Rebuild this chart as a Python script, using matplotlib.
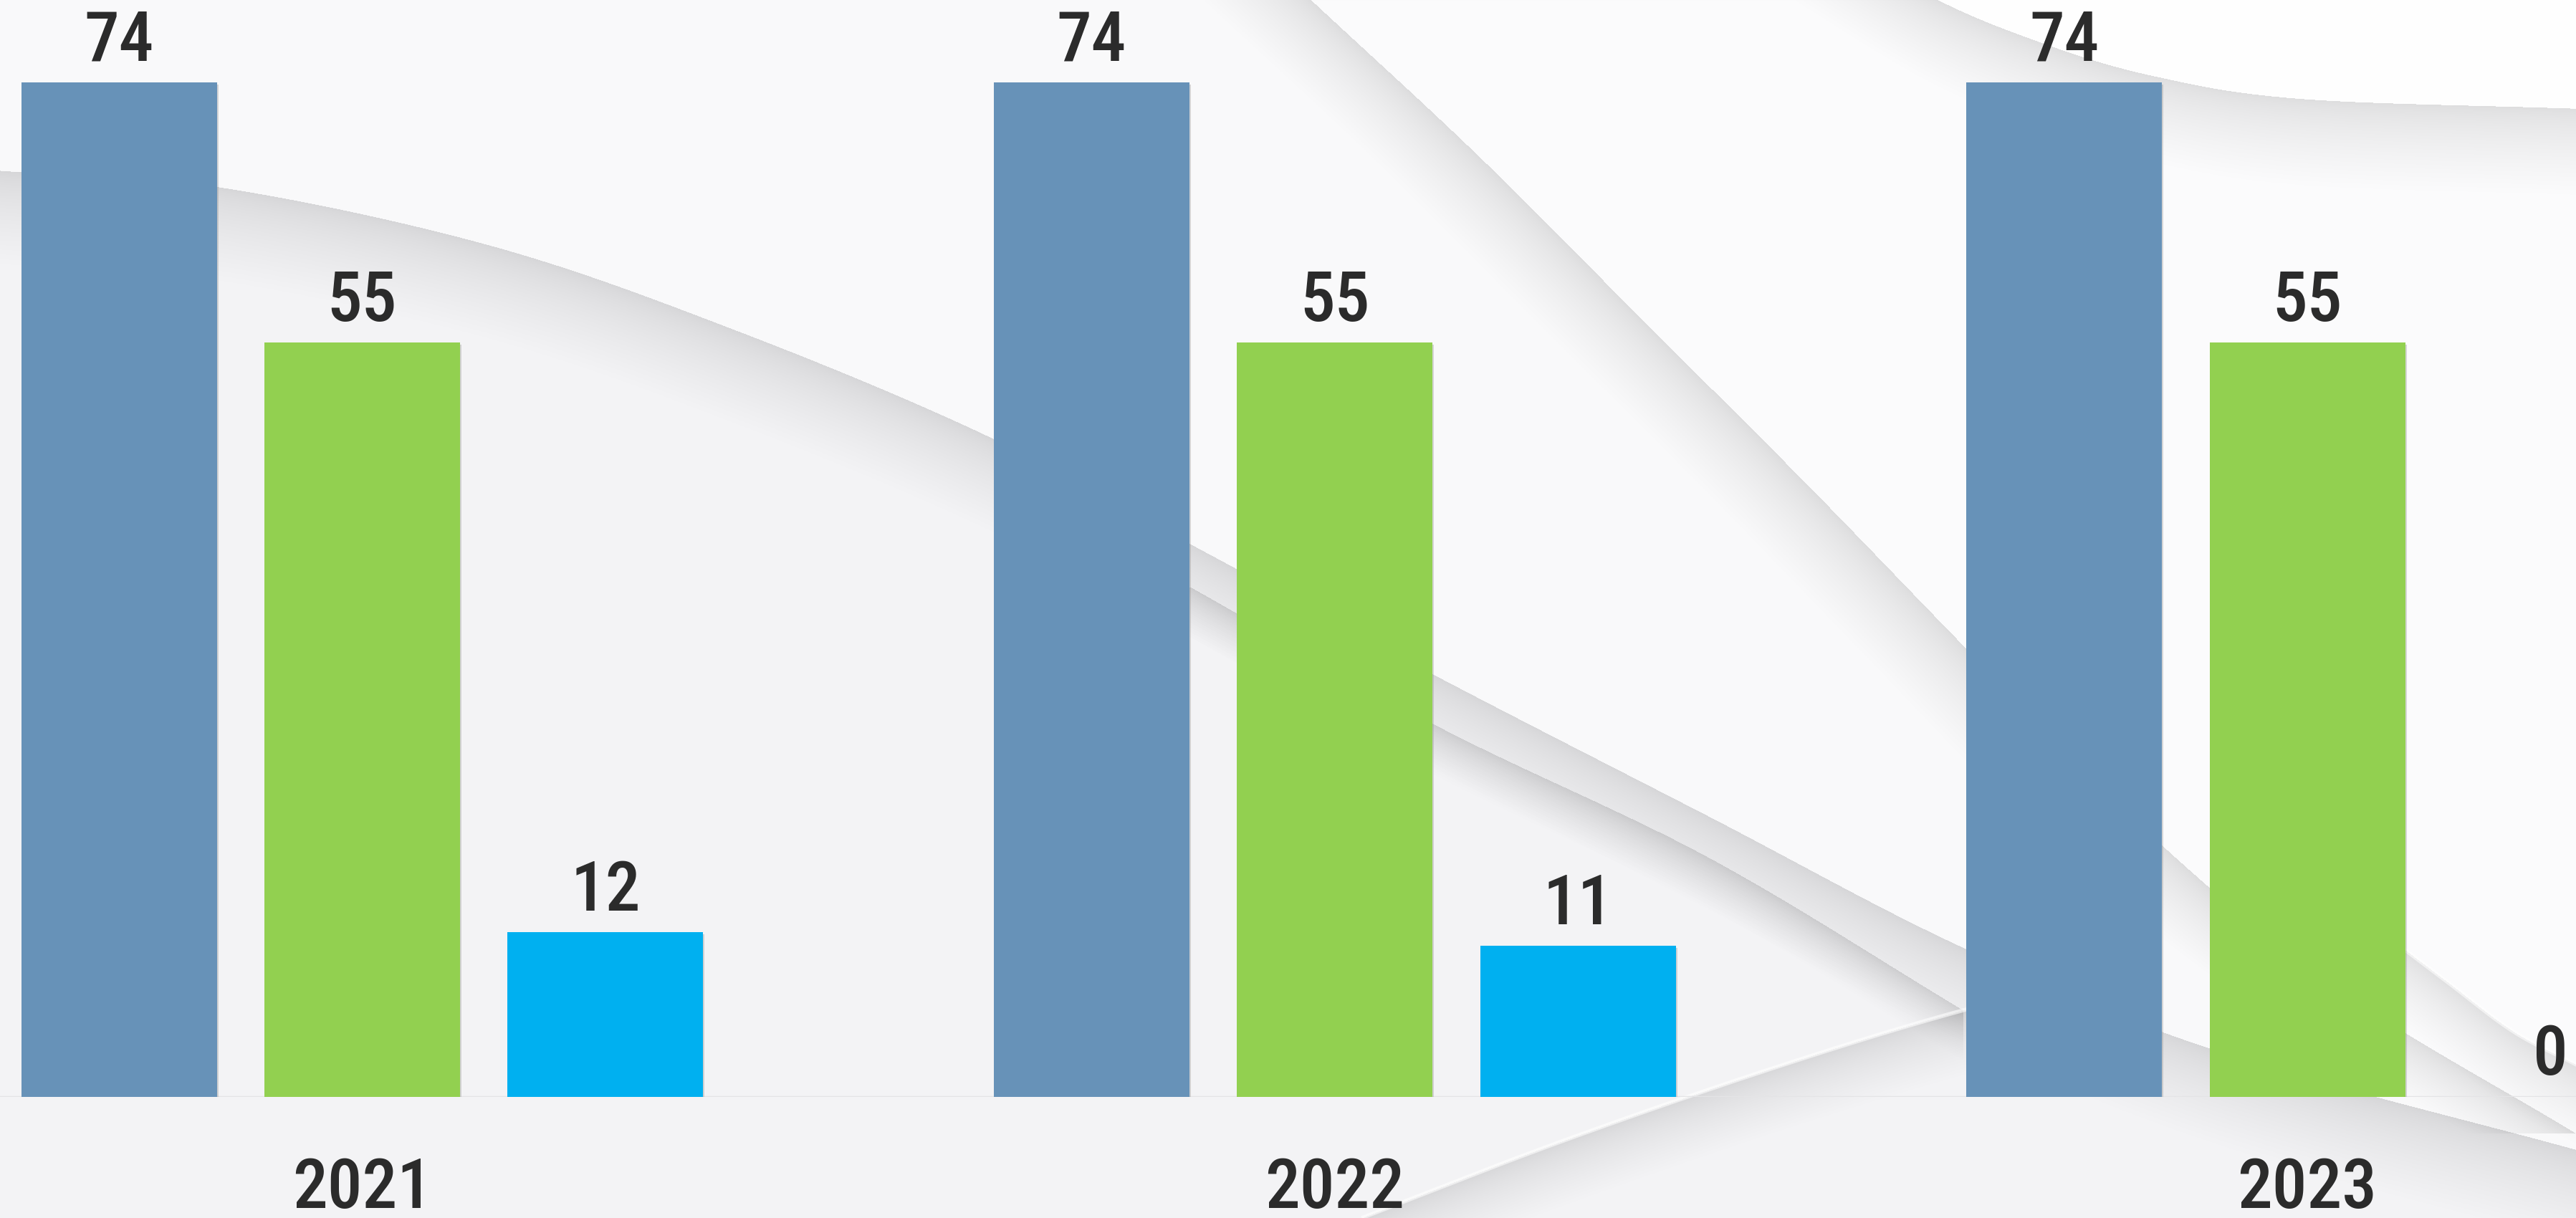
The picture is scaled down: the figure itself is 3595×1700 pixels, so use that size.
import numpy as np
import matplotlib
matplotlib.use('Agg')
import matplotlib.pyplot as plt
import matplotlib.patheffects as pe
from matplotlib.transforms import blended_transform_factory

plt.rcParams['font.family'] = ['Roboto Condensed', 'Liberation Sans Narrow', 'Roboto', 'DejaVu Sans']

years = ['2021', '2022', '2023']
series_a = [74, 74, 74]
series_b = [55, 55, 55]
series_c = [12, 11, 0]
colors = ['#6792b8', '#92d050', '#00b0f0']

W, H = 3595, 1700
fig = plt.figure(figsize=(W / 100, H / 100), dpi=100, facecolor='#f3f3f5')

# background swooshes, drawn in pixel space (y down)
bg = fig.add_axes([0, 0, 1, 1], zorder=0)
bg.set_xlim(0, W)
bg.set_ylim(H, 0)
bg.axis('off')
s = W / 1568.0


def smooth(pts, n=40):
    # catmull-rom through the control points (given in 1568-wide coords)
    p = np.array(pts, dtype=float) * s
    p = np.vstack([2 * p[0] - p[1], p, 2 * p[-1] - p[-2]])
    out = []
    t = np.linspace(0, 1, n, endpoint=False)[:, None]
    for i in range(1, len(p) - 2):
        p0, p1, p2, p3 = p[i - 1], p[i], p[i + 1], p[i + 2]
        out.append(0.5 * ((2 * p1) + (-p0 + p2) * t + (2 * p0 - 5 * p1 + 4 * p2 - p3) * t ** 2
                          + (-p0 + 3 * p1 - 3 * p2 + p3) * t ** 3))
    out.append(p[-2][None, :])
    out = np.vstack(out)
    return out[:, 0], out[:, 1]


def soft_shadow(x, y, depth, col='#a0a0a6', steps=30, alpha=0.0045):
    # denser near the edge, fading out
    for i in range(steps):
        d = depth * ((i + 1) / steps) ** 1.6
        bg.fill_between(x, y, y + d, color=col, alpha=alpha, lw=0)


# big upper-left sheet
c1 = [(0, 104), (133, 114), (300, 150), (450, 202), (600, 265), (724, 331),
      (875, 412), (1040, 497), (1195, 577), (1350, 640), (1568, 700)]
x1, y1 = smooth(c1)
bg.fill_between(x1, 0, y1, color='#f9f9fa', lw=0)
soft_shadow(x1, y1, 130)

# second, lower sheet edge
c2 = [(724, 357), (875, 442), (1040, 522), (1195, 615)]
x2, y2 = smooth(c2)
soft_shadow(x2, y2, 70, alpha=0.003)

# diagonal fold
d1 = [(798, 0), (900, 95), (1000, 195), (1100, 295), (1195, 393), (1300, 500),
      (1420, 600), (1568, 690)]
xd, yd = smooth(d1)
bg.fill_betweenx(yd, xd, W, color='#fbfbfc', lw=0)
for i in range(30):
    bg.fill_betweenx(yd, xd - 150 * ((i + 1) / 30) ** 1.6, xd, color='#a0a0a6', alpha=0.004, lw=0)

# top-right arc
a1 = [(1080, -60), (1170, -5), (1240, 25), (1310, 46), (1400, 60), (1568, 66)]
xa, ya = smooth(a1)
bg.fill_between(xa, -200, ya, color='#fefefe', lw=0)
soft_shadow(xa, ya, 120, alpha=0.005)

# light streak near the bottom
b1 = [(830, 741), (950, 695), (1080, 650), (1195, 615), (1300, 590)]
xb, yb = smooth(b1)
bg.plot(xb, yb, color='white', lw=4, alpha=0.6)
soft_shadow(xb, yb, 90, alpha=0.003)

# bottom-right streak
r1 = [(1440, 560), (1490, 598), (1530, 628), (1568, 648)]
xr, yr = smooth(r1)
bg.plot(xr, yr, color='white', lw=4, alpha=0.6)
soft_shadow(xr, yr, 110, alpha=0.004)

# chart
ax = fig.add_axes([0, 169 / H, 1, 1 - 169 / H], zorder=2)
ax.patch.set_alpha(0)
ax.set_xlim(-0.3724, 2.2762)
ax.set_ylim(0, 80)
ax.axis('off')
ax.axhline(0, color='#e4e4e6', lw=2.5, zorder=1)

x = np.arange(len(years))
offsets = [-0.25, 0, 0.25]
shadow = [pe.SimplePatchShadow(offset=(1.5, -2), shadow_rgbFace='#808080', alpha=0.3), pe.Normal()]
for vals, off, col in zip([series_a, series_b, series_c], offsets, colors):
    bars = ax.bar(x + off, vals, width=0.201, color=col, zorder=3, path_effects=shadow)
    for rect, v in zip(bars, vals):
        ax.annotate(str(v), (rect.get_x() + rect.get_width() / 2, v),
                    xytext=(0, 22), textcoords='offset points',
                    ha='center', va='baseline', fontsize=70, fontweight='medium',
                    color='#2b2b2b', zorder=4)

tr = blended_transform_factory(ax.transData, fig.transFigure)
for xi, yr_ in zip(x, years):
    ax.text(xi, 14 / H, yr_, transform=tr, ha='center', va='baseline',
            fontsize=70, fontweight='medium', color='#2b2b2b')

fig.savefig('out.png', dpi=100, facecolor=fig.get_facecolor())
